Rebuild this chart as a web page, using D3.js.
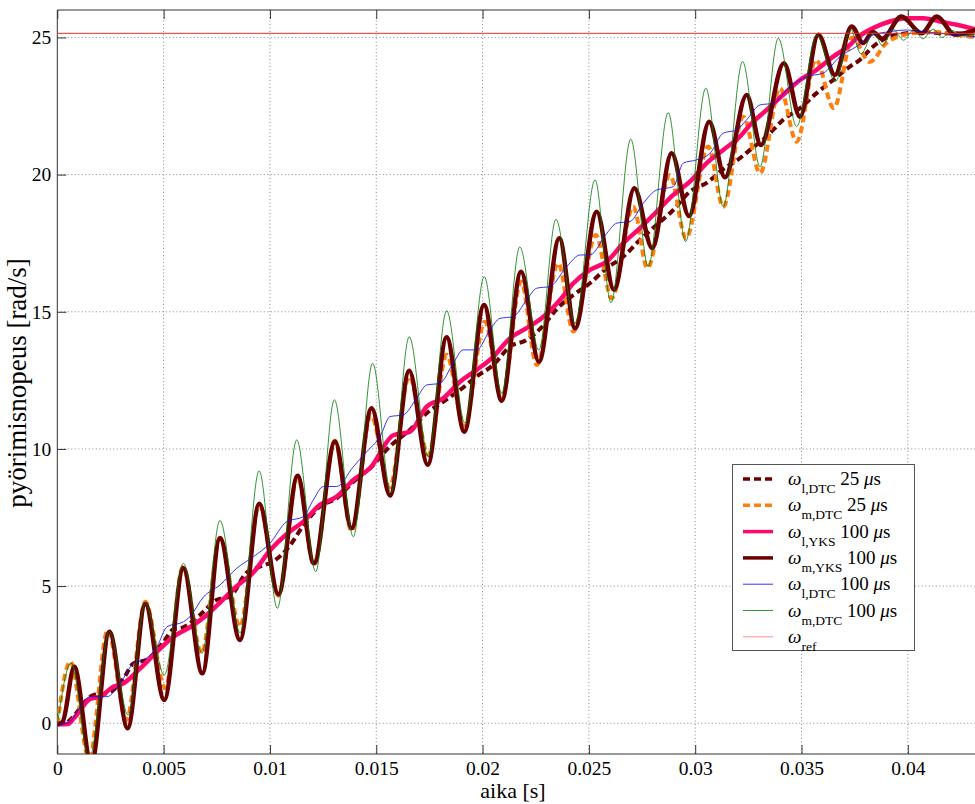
<!DOCTYPE html>
<head>
  <meta charset="utf-8">
  <script src="https://d3js.org/d3.v7.min.js"></script>
  <style>
    body { margin:0; background:#fff; }
    svg, svg text { font-family: "Liberation Serif", "Times New Roman", Times, serif; }
    .grid line { stroke:#888; stroke-dasharray:1,2.5; stroke-width:1; }
  </style>
</head>
<body>
<script>
// omega_l,DTC 25 us (load speed, dashed maroon)
var tLDTC25 = [0,0.00036,0.00171,0.00234,0.00312,0.00359,0.00422,0.005,0.00547,0.00593,0.00671,0.0075,0.00812,0.00891,0.00953,0.01016,0.01086,0.01157,0.01235,0.01314,0.01392,0.01471,0.01565,0.01659,0.01737,0.01815,0.01894,0.01972,0.0205,0.02129,0.02207,0.02286,0.02349,0.02427,0.02505,0.02584,0.02662,0.0274,0.02819,0.02897,0.02975,0.03054,0.03132,0.03211,0.03258,0.03336,0.03414,0.03493,0.03571,0.03649,0.03728,0.03774,0.03837,0.03915,0.03994,0.04073,0.04151,0.0423,0.04316];
var wLDTC25 = [-0.04,0,1.03,1.09,1.64,2.19,2.31,2.97,3.43,3.5,3.95,4.5,4.62,5.5,5.71,5.9,6.4,7.2,7.9,8.2,8.8,9.3,10.1,10.7,11.3,11.72,12.15,12.64,13.06,13.73,13.97,14.5,15.1,15.61,16.04,16.59,17.01,17.62,18.17,18.71,19.38,19.7,20.2,20.6,20.9,21.39,22.0,22.42,22.97,23.45,23.94,24.18,24.67,25.03,25.15,25.21,25.15,25.15,25.03];

// omega_m,DTC 25 us (motor speed, dashed orange)
var tMDTC25 = [0,0.00061,0.0015,0.00237,0.00325,0.00414,0.00508,0.0059,0.00679,0.00765,0.00859,0.0095,0.0104,0.0113,0.01207,0.01306,0.01384,0.01475,0.01563,0.01655,0.01745,0.01831,0.01914,0.02011,0.0209,0.02181,0.02255,0.02356,0.02427,0.02533,0.02607,0.02709,0.02775,0.02881,0.02957,0.03061,0.03132,0.03226,0.03305,0.03399,0.03477,0.03568,0.03652,0.0374,0.0382,0.039,0.0396,0.0402,0.0413,0.0422,0.0433];
var wMDTC25 = [-0.04,2.25,-1.3,3.4,0.12,4.43,1.28,5.7,2.55,6.76,3.52,7.95,4.65,9.0,5.77,10.3,7.0,11.24,8.6,12.64,9.78,13.43,10.81,14.64,11.79,16.1,13.06,16.77,14.28,17.8,15.49,18.83,16.59,19.99,17.68,21.02,18.83,22.11,20.05,23.15,21.2,24.18,22.42,25.0,24.1,24.8,25.05,25.15,25.2,25.1,25.0];

// omega_l,YKS 100 us (pink)
var tLYKS = [0,0.0005,0.0008,0.00155,0.00201,0.00263,0.00312,0.0039,0.00469,0.00547,0.00624,0.00703,0.00765,0.00844,0.00922,0.01,0.01079,0.01157,0.01235,0.01314,0.01392,0.01471,0.0158,0.01659,0.01737,0.01815,0.01894,0.01972,0.0205,0.02129,0.02207,0.02286,0.02364,0.02427,0.02505,0.02584,0.02662,0.0274,0.02819,0.02897,0.02975,0.03054,0.03132,0.03211,0.03258,0.03336,0.03414,0.03493,0.03571,0.03649,0.03728,0.03759,0.03837,0.03915,0.03994,0.04073,0.04151,0.0423,0.04316];
var wLYKS = [-0.04,-0.03,0.2,0.89,0.97,1.33,1.46,2.0,2.61,3.16,3.5,3.95,4.4,5.0,5.5,6.3,6.9,7.35,7.96,8.26,8.87,9.3,10.5,10.63,11.54,11.85,12.45,12.88,13.36,14.04,14.4,14.82,15.43,16.04,16.53,16.83,17.5,18.05,18.65,19.26,19.74,20.42,20.9,21.39,21.81,22.36,22.91,23.45,23.82,24.3,24.73,24.97,25.34,25.58,25.7,25.7,25.58,25.46,25.3];

// omega_m,YKS 100 us (solid maroon)
var tMYKS = [0,0.00025,0.0008,0.0016,0.00245,0.00331,0.00414,0.00503,0.00593,0.00682,0.00765,0.00859,0.0095,0.0104,0.0113,0.01207,0.01306,0.01384,0.01478,0.01565,0.01655,0.01742,0.01831,0.01914,0.02007,0.0209,0.02181,0.02265,0.02361,0.02435,0.02537,0.02618,0.02714,0.02798,0.02889,0.02971,0.03066,0.0314,0.03242,0.03309,0.03417,0.03493,0.03579,0.03657,0.03736,0.0379,0.03835,0.0388,0.0397,0.04065,0.04136,0.04222,0.0433];
var wMYKS = [-0.04,0.05,2.06,-1.5,3.34,-0.18,4.35,0.85,5.65,1.82,6.74,3.04,8.0,4.7,9.02,5.83,10.27,7.11,11.48,8.3,12.85,9.42,14.07,10.63,15.25,11.76,16.46,13.18,17.68,14.4,18.65,15.8,19.5,17.32,20.78,18.49,21.93,19.9,22.9,21.08,24.06,22.11,25.1,23.63,25.4,24.8,25.2,24.95,25.76,25.15,25.76,25.1,25.3];

// omega_l,DTC 100 us (thin blue)
var tLDTC100 = [0,0.00046,0.00155,0.00234,0.00296,0.00359,0.00406,0.00469,0.00516,0.00594,0.00624,0.00687,0.00765,0.00844,0.00922,0.01,0.01079,0.01157,0.01204,0.01251,0.01314,0.01392,0.01455,0.01518,0.01565,0.01627,0.0169,0.01737,0.01799,0.01862,0.01909,0.01972,0.02035,0.02082,0.02144,0.02207,0.02255,0.02317,0.02396,0.02459,0.02505,0.02584,0.02631,0.02694,0.02756,0.02819,0.02897,0.02944,0.03007,0.0307,0.03132,0.03195,0.03242,0.03305,0.03367,0.03446,0.03524,0.03602,0.03681,0.03759,0.03837,0.03915,0.03994,0.04073,0.04151,0.0423,0.04316];
var wLDTC100 = [-0.04,0,0.97,0.97,1.46,2.19,2.31,2.79,3.52,3.7,3.89,4.6,5.04,5.65,6.07,6.56,7.35,7.53,8.14,8.63,8.63,9.35,9.9,10.45,11.18,11.24,11.85,12.33,12.39,13.12,13.61,13.61,14.34,14.76,14.82,15.43,15.86,15.92,16.65,17.07,17.07,17.86,18.23,18.29,18.96,19.44,19.56,20.42,20.54,20.78,21.51,21.63,22.0,22.54,22.6,23.21,23.57,23.7,24.3,24.67,25.09,25.21,25.27,25.21,25.15,25.09,25.03];

// omega_m,DTC 100 us (thin green)
var tMDTC100 = [0,0.00065,0.0015,0.00245,0.00333,0.00414,0.00503,0.00593,0.0068,0.00765,0.0086,0.00949,0.01035,0.01126,0.01215,0.01303,0.01392,0.01483,0.01569,0.01655,0.01745,0.01831,0.01917,0.02008,0.0209,0.02175,0.02265,0.02345,0.02435,0.02529,0.02604,0.02697,0.02779,0.02873,0.02955,0.0305,0.03132,0.03223,0.03305,0.03391,0.03477,0.03571,0.0366,0.0373,0.0378,0.0384,0.0388,0.0393,0.0398,0.0403,0.0407,0.0412,0.0416,0.0421,0.0426,0.0433];
var wMDTC100 = [-0.04,2.2,-1.3,3.35,0.3,4.38,1.76,5.83,2.55,7.39,3.3,9.2,4.19,10.33,5.53,11.79,6.8,13.12,8.4,14.09,9.72,15.04,10.94,16.28,12.03,17.36,13.6,18.37,14.58,19.81,15.33,21.29,16.65,22.26,17.56,23.15,18.83,24.12,20.29,24.97,21.75,25.09,23.39,25.3,24.4,25.2,24.7,25.3,24.9,25.3,24.95,25.3,25.0,25.25,25.05,25.15];

// omega_ref
var tRef = [0,0.0441];
var wRef = [25.15,25.15];

var xTicks = [0,0.005,0.01,0.015,0.02,0.025,0.03,0.035,0.04];
var xTickLabels = ["0","0.005","0.01","0.015","0.02","0.025","0.03","0.035","0.04"];
var yTicks = [0,5,10,15,20,25];

var legendSub = ["l,DTC","m,DTC","l,YKS","m,YKS","l,DTC","m,DTC","ref"];
var legendStep = ["25","25","100","100","100","100",""];

var W = 975, H = 804;
var L = 57.3, R = 995, T = 10, B = 754;
var serif = "'Liberation Serif', 'Times New Roman', Times, serif";

var x = d3.scaleLinear().domain([0, 0.0441]).range([L, R]);
var y = d3.scaleLinear().domain([-1.12, 26]).range([B, T]);

var svg = d3.select("body").append("svg")
  .attr("width", W).attr("height", H)
  .attr("font-family", serif);

svg.append("defs").append("clipPath").attr("id","plotclip")
  .append("rect").attr("x",L).attr("y",T).attr("width",R-L).attr("height",B-T);

// grid
var grid = svg.append("g").attr("class","grid");
grid.selectAll(".gx").data(xTicks.slice(1)).enter().append("line")
  .attr("x1",function(d){return x(d);}).attr("x2",function(d){return x(d);})
  .attr("y1",T).attr("y2",B);
grid.selectAll(".gy").data(yTicks).enter().append("line")
  .attr("x1",L).attr("x2",R)
  .attr("y1",function(d){return y(d);}).attr("y2",function(d){return y(d);});

// axes (ticks inward)
var xAxisB = d3.axisBottom(x).tickValues(xTicks).tickSize(-9).tickPadding(7)
  .tickFormat(function(d,i){return xTickLabels[i];});
var xAxisT = d3.axisTop(x).tickValues(xTicks).tickSize(-9).tickFormat("");
var yAxisL = d3.axisLeft(y).tickValues(yTicks).tickSize(-9).tickPadding(6);

function styleAxis(g){
  g.attr("font-family", serif).attr("font-size", null);
  g.select(".domain").remove();
  g.selectAll(".tick line").attr("stroke","#333");
  g.selectAll(".tick text").attr("fill","#000")
   .style("font-family", serif).style("font-size","19.5px");
}
svg.append("g").attr("transform","translate(0,"+B+")").call(xAxisB).call(styleAxis);
svg.append("g").attr("transform","translate(0,"+T+")").call(xAxisT).call(styleAxis);
svg.append("g").attr("transform","translate("+L+",0)").call(yAxisL).call(styleAxis);

// box
svg.append("path")
  .attr("d","M"+R+","+T+"H"+L+"V"+B+"H"+R)
  .attr("fill","none").attr("stroke","#333").attr("stroke-width",1);

// series
var series = [
  {t:tLDTC25, w:wLDTC25, color:"#6b0000", width:4, dash:"7,4"},
  {t:tMDTC25, w:wMDTC25, color:"#ff7f0e", width:4, dash:"7,4"},
  {t:tLYKS, w:wLYKS, color:"#ff0a6c", width:4.5, dash:null},
  {t:tMYKS, w:wMYKS, color:"#6b0000", width:4.5, dash:null},
  {t:tLDTC100, w:wLDTC100, color:"#0000ff", width:0.8, dash:null},
  {t:tMDTC100, w:wMDTC100, color:"#007a00", width:0.8, dash:null},
  {t:tRef, w:wRef, color:"#e03030", width:1, dash:null}
];

var line = d3.line()
  .x(function(d){return x(d[0]);})
  .y(function(d){return y(d[1]);})
  .curve(d3.curveMonotoneX);

var plot = svg.append("g").attr("clip-path","url(#plotclip)");
series.forEach(function(s){
  var pts = s.t.map(function(t,i){return [t, s.w[i]];});
  plot.append("path").datum(pts)
    .attr("d", line)
    .attr("fill","none")
    .attr("stroke", s.color)
    .attr("stroke-width", s.width)
    .attr("stroke-dasharray", s.dash)
    .attr("stroke-linejoin","round");
});

// legend
var lg = svg.append("g");
lg.append("rect").attr("x",732.5).attr("y",464.5).attr("width",182).attr("height",186)
  .attr("fill","#fff").attr("stroke","#555").attr("stroke-width",1);

legendSub.forEach(function(sub,i){
  var ry = 479 + i*26.3;
  var s = series[i];
  lg.append("line").attr("x1",743).attr("x2",773).attr("y1",ry).attr("y2",ry)
    .attr("stroke", i==6 ? "#ff9090" : s.color)
    .attr("stroke-width", i<4 ? 3.5 : s.width)
    .attr("stroke-dasharray", s.dash);
  var tx = lg.append("text").attr("x",788).attr("y",ry+6).style("font-size","19px");
  tx.append("tspan").style("font-style","italic").text("ω");
  tx.append("tspan").attr("dy",8).style("font-size","13.5px").text(sub);
  if (legendStep[i] != "") {
    tx.append("tspan").attr("dy",-8).text("\u00a0"+legendStep[i]+" ");
    tx.append("tspan").style("font-style","italic").text("μ");
    tx.append("tspan").text("s");
  }
});

// axis labels
svg.append("text").attr("x",513).attr("y",798).attr("text-anchor","middle")
  .style("font-size","22px").text("aika [s]");
svg.append("text").attr("transform","translate(26,383) rotate(-90)")
  .attr("text-anchor","middle").style("font-size","27px").text("pyörimisnopeus [rad/s]");
</script>
</body>
